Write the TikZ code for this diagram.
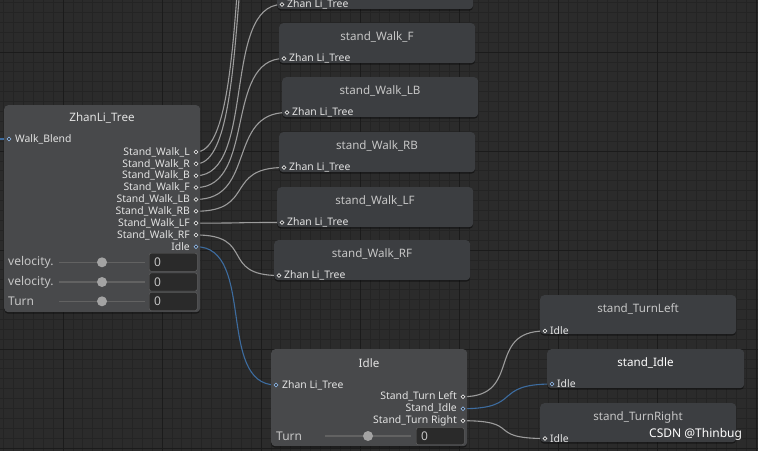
\documentclass[tikz,border=0pt]{standalone}
\usepackage{fontspec}
\setmainfont{Noto Sans}
\usetikzlibrary{shadows}
\pgfdeclarelayer{edges}
\pgfdeclarelayer{grid}
\pgfsetlayers{grid,edges,main}
\definecolor{bg}{HTML}{2B2B2B}
\definecolor{minorc}{HTML}{242424}
\definecolor{majorc}{HTML}{1B1B1B}
\definecolor{nodec}{HTML}{3C3E41}
\definecolor{bignodec}{HTML}{48494B}
\definecolor{ttlc}{HTML}{C6C6C6}
\definecolor{lblc}{HTML}{E2E2E2}
\definecolor{edgec}{HTML}{9C9C9C}
\definecolor{bluec}{HTML}{3D6C9F}
\definecolor{blueport}{HTML}{8DB4E2}
\definecolor{fieldc}{HTML}{2A2A2A}
\definecolor{trackc}{HTML}{626262}
\definecolor{knobc}{HTML}{A3A3A3}
\tikzset{
  box/.style={fill=nodec, rounded corners=4pt, inner sep=0pt, anchor=north west,
    drop shadow={shadow xshift=0pt, shadow yshift=-1.5pt, opacity=0.45, fill=black}},
  bigbox/.style={box, fill=bignodec},
  ttl/.style={text=ttlc, font=\fontsize{11.6}{13}\selectfont, inner sep=0pt},
  bigttl/.style={ttl, text=lblc},
  lbl/.style={text=lblc, font=\fontsize{10.4}{12}\selectfont, inner sep=0pt},
  slbl/.style={text=ttlc, font=\fontsize{12}{14}\selectfont, inner sep=0pt, anchor=west},
  port/.style={circle, draw=lblc, fill=black!85, line width=0.7pt, inner sep=0pt, minimum size=3.8pt},
  bport/.style={port, draw=blueport},
  edge/.style={draw=edgec, line width=1.1pt},
  bedge/.style={draw=bluec, line width=1.1pt},
  field/.style={fill=fieldc, draw=black!60, line width=0.4pt, rounded corners=2pt, inner sep=0pt, anchor=north west},
  fieldtxt/.style={text=ttlc, font=\fontsize{12}{14}\selectfont, inner sep=0pt, anchor=west},
  track/.style={draw=trackc, line width=1.6pt},
  knob/.style={circle, fill=knobc, inner sep=0pt, minimum size=10pt},
}
\begin{document}
\begin{tikzpicture}[x=1pt,y=-1pt]
\useasboundingbox (0,0) rectangle (758,451);
\clip (0,0) rectangle (758,451);
\begin{pgfonlayer}{grid}
\fill[bg] (0,0) rectangle (758,451);
\foreach \k in {0,...,76} {\draw[minorc, line width=0.8pt] ({3.6+9.9*\k},0) -- ++(0,451);}
\foreach \k in {0,...,45} {\draw[minorc, line width=0.8pt] (0,{2.5+9.9*\k}) -- ++(758,0);}
\foreach \k in {0,...,7} {\draw[majorc, line width=1pt] ({63+99*\k},0) -- ++(0,451);}
\foreach \k in {0,...,4} {\draw[majorc, line width=1pt] (0,{52+99*\k}) -- ++(758,0);}
\end{pgfonlayer}

% ---------- ZhanLi_Tree ----------
\node[bigbox, minimum width=196pt, minimum height=207pt] (zt) at (4,105) {};
\node[bigttl] (zt-t) at (102,118) {ZhanLi\_Tree};
\node[bport] (zt-in) at (9,139) {};
\node[lbl, anchor=west] (zt-inl) at (15,139) {Walk\_Blend};
\foreach \n/\t [count=\i from 0] in {l/Stand\_Walk\_L, r/Stand\_Walk\_R, b/Stand\_Walk\_B, f/Stand\_Walk\_F, lb/Stand\_Walk\_LB, rb/Stand\_Walk\_RB, lf/Stand\_Walk\_LF, rf/Stand\_Walk\_RF} {
  \node[port] (zt-\n) at (196,{152+11.85*\i}) {};
  \node[lbl, anchor=east] (zt-\n-l) at (190,{152+11.85*\i}) {\t};
}
\node[bport] (zt-idle) at (196,246.7) {};
\node[lbl, anchor=east] (zt-idle-l) at (190,246.7) {Idle};
\foreach \t/\y [count=\i] in {velocity./262.3, velocity./282, Turn/301.3} {
  \node[slbl] (zt-s\i-l) at (8,\y) {\t};
  \draw[track] (59,\y) -- (145,\y);
  \node[knob] (zt-s\i-k) at (102,\y) {};
}
\node[field, minimum width=48pt, minimum height=18pt] (zt-f1) at (149,253) {};
\node[field, minimum width=48pt, minimum height=18pt] (zt-f2) at (149,272.8) {};
\node[field, minimum width=48pt, minimum height=18pt] (zt-f3) at (149,292.3) {};
\foreach \i in {1,2,3} {\node[fieldtxt] (zt-f\i-t) at ([xshift=5pt]zt-f\i.west) {0};}

% ---------- stand_Walk_* children ----------
\foreach \n/\x/\y/\t in {b/277/-31/stand\_Walk\_B, f/279/23/stand\_Walk\_F, lb/282/77/stand\_Walk\_LB, rb/279/132/stand\_Walk\_RB, lf/277/187/stand\_Walk\_LF, rf/274/240/stand\_Walk\_RF} {
  \node[box, minimum width=196pt, minimum height=40pt] (c-\n) at (\x,\y) {};
  \node[ttl] (c-\n-t) at ({\x+98},{\y+14}) {\t};
  \node[port] (c-\n-in) at ({\x+5},{\y+35.5}) {};
  \node[lbl, anchor=west] (c-\n-l) at ({\x+10},{\y+35.5}) {Zhan Li\_Tree};
}
\coordinate (offL) at (282,-220);
\coordinate (offR) at (282,-166);
\coordinate (offW) at (-20,139);

% ---------- Idle ----------
\node[bigbox, minimum width=196pt, minimum height=97pt] (id) at (271,349) {};
\node[bigttl] (id-t) at (369,363) {Idle};
\node[bport] (id-in) at (276,385) {};
\node[lbl, anchor=west] (id-inl) at (282,385) {Zhan Li\_Tree};
\node[port] (id-tl) at (463,396.7) {};
\node[lbl, anchor=east] (id-tl-l) at (457,396.7) {Stand\_Turn Left};
\node[bport] (id-si) at (463,408.7) {};
\node[lbl, anchor=east] (id-si-l) at (457,408.7) {Stand\_Idle};
\node[port] (id-tr) at (463,420.7) {};
\node[lbl, anchor=east] (id-tr-l) at (457,420.7) {Stand\_Turn Right};
\node[slbl] (id-s-l) at (276,436) {Turn};
\draw[track] (325,436) -- (411,436);
\node[knob] (id-s-k) at (368,436) {};
\node[field, minimum width=48pt, minimum height=17pt] (id-f) at (416,427.5) {};
\node[fieldtxt] (id-f-t) at ([xshift=5pt]id-f.west) {0};

% ---------- right children ----------
\node[box, minimum width=196pt, minimum height=39pt] (tl) at (540,295) {};
\node[ttl] (tl-t) at (638,308.5) {stand\_TurnLeft};
\node[port] (tl-in) at (545,331) {};
\node[lbl, anchor=west] (tl-l) at (550,331) {Idle};

\node[box, minimum width=197pt, minimum height=39pt] (si) at (547,349) {};
\node[ttl, text=white] (si-t) at (645.5,363) {stand\_Idle};
\node[bport] (si-in) at (552,384) {};
\node[lbl, anchor=west] (si-l) at (557,384) {Idle};

\node[box, minimum width=196pt, minimum height=39pt] (tr) at (540,403) {};
\node[ttl] (tr-t) at (638,417) {stand\_TurnRight};
\node[port] (tr-in) at (545,438.5) {};
\node[lbl, anchor=west] (tr-l) at (550,438.5) {Idle};

% ---------- connectors ----------
\begin{pgfonlayer}{edges}
\draw[edge] (zt-l.center) .. controls +(60,0) and +(-60,0) .. (offL);
\draw[edge] (zt-r.center) .. controls +(60,0) and +(-60,0) .. (offR);
\foreach \n in {b,f,lb,rb,lf,rf} {
  \draw[edge] (zt-\n.center) .. controls +(60,0) and +(-60,0) .. (c-\n-in.center);
}
\draw[bedge] (zt-idle.center) .. controls +(60,0) and +(-60,0) .. (id-in.center);
\draw[bedge] (offW) -- (zt-in.center);
\draw[edge] (id-tl.center) .. controls +(60,0) and +(-60,0) .. (tl-in.center);
\draw[bedge] (id-si.center) .. controls +(60,0) and +(-60,0) .. (si-in.center);
\draw[edge] (id-tr.center) .. controls +(60,0) and +(-60,0) .. (tr-in.center);
\end{pgfonlayer}

\node[text=white, font=\fontsize{12}{14}\selectfont, inner sep=0pt, anchor=west] (wm) at (649,434) {CSDN @Thinbug};
\end{tikzpicture}
\end{document}
